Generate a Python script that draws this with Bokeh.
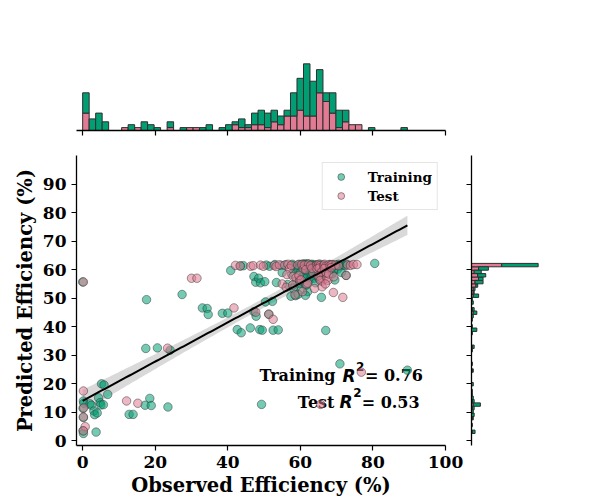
import numpy as np
from bokeh.plotting import figure
from bokeh.layouts import column, row
from bokeh.models import Range1d, FixedTicker, Legend, LegendItem
from bokeh.core.properties import value
from bokeh.embed import file_html
from bokeh.resources import INLINE

# ---------------------------------------------------------------------------
# Observed vs predicted efficiency (%)
# ---------------------------------------------------------------------------
train_observed = [
    0.0, 0.2, 0.3, 0.1, 0.2, 0.1, 0.2,
    2.0, 2.4, 3.1, 3.3,
    3.7, 4.4, 4.8, 5.0, 4.0, 5.2,
    5.9, 6.9, 5.7,
    12.8, 13.9,
    17.6, 17.4, 17.2, 18.5, 18.9, 20.6, 24.1, 23.5, 27.4,
    33.0, 34.3, 34.6, 38.5, 40.0, 40.8,
    42.6, 43.7, 43.5, 44.3,
    46.2, 47.2, 47.7, 47.2, 47.8, 48.5, 48.8,
    49.3, 49.5, 49.0,
    50.4, 51.3, 50.6, 51.5, 50.2,
    52.3, 52.5, 53.0, 53.4,
    53.9, 54.8, 55.0,
    56.0, 56.5,
    57.4, 58.7, 57.8, 58.2, 58.6, 57.6, 58.9, 58.0,
    59.3, 59.7, 60.2, 60.6, 59.5, 60.1, 60.5, 59.8, 60.3, 59.4, 60.7,
    61.0, 61.2, 61.4, 61.6, 61.8, 62.0, 62.2, 62.4, 61.3, 61.7, 62.1, 62.5,
    61.1, 61.9, 62.3, 61.5, 62.0, 61.4,
    62.8, 63.1, 63.4, 63.7, 64.0, 64.3, 62.9, 63.5, 64.1, 63.0, 63.8, 64.2,
    64.6, 65.0, 65.4, 65.9, 64.8, 65.6, 65.8, 65.2,
    66.5, 67.0, 67.5,
    68.2, 68.6, 69.0, 69.5, 68.4, 69.2, 68.8,
    70.0, 70.5, 71.0, 70.9, 70.3, 71.3,
    71.8, 72.3, 72.8, 72.6,
    80.5, 89.5,
]
train_predicted = [
    55.7, 14.0, 13.2, 11.4, 8.2, 3.6, 2.6,
    13.0, 12.5, 10.5, 9.2,
    3.1, 15.1, 13.4, 12.6, 9.8, 20.0,
    19.6, 16.3, 12.7,
    9.3, 9.3,
    49.5, 32.4, 12.5, 14.9, 12.4, 32.6, 31.8, 11.9, 51.3,
    46.6, 46.4, 44.3, 44.7, 44.8, 59.7,
    39.0, 37.9, 61.3, 61.4,
    39.6, 57.6, 55.6, 45.3, 43.7, 57.0, 39.0,
    12.8, 38.8, 55.4,
    48.7, 44.4, 61.6, 61.2, 55.8,
    48.9, 38.8, 61.8, 55.5,
    38.9, 61.5, 59.0,
    61.7, 54.8,
    50.7, 50.9, 61.9, 61.3, 60.2, 58.4, 56.0, 53.5,
    61.4, 61.9, 61.6, 61.2, 60.4, 59.2, 57.5, 55.2, 53.0, 51.4, 62.0,
    61.5, 62.0, 61.3, 61.8, 61.5, 62.1, 61.2, 58.8, 60.3, 59.9, 60.5, 59.4,
    58.0, 57.2, 56.0, 54.5, 52.3, 51.0,
    61.6, 61.9, 61.3, 61.8, 61.4, 57.9, 60.2, 59.6, 60.6, 58.3, 57.0, 55.4,
    61.7, 61.3, 61.9, 61.5, 60.1, 58.6, 50.3, 56.8,
    61.6, 38.7, 60.4,
    61.8, 61.3, 61.7, 56.4, 60.0, 59.5, 58.6,
    61.6, 61.9, 61.3, 27.0, 60.2, 59.0,
    61.7, 61.4, 61.9, 58.0,
    62.2, 24.8,
]
test_observed = [
    0.2, 0.2, 0.3, 0.2, 0.7, 0.2,
    12.1, 15.2, 23.4, 30.0, 31.5,
    42.1, 41.7, 43.4, 46.3, 47.7, 47.0, 49.0, 49.8, 51.3,
    52.5, 52.8, 53.3, 54.2, 55.0,
    55.7, 56.1, 56.6, 57.0, 56.3,
    57.5, 58.0, 58.5, 58.8, 57.9,
    59.3, 59.8, 60.4, 60.8, 59.6, 60.2, 60.6,
    61.1, 61.7, 62.3, 61.5, 62.0,
    62.8, 63.5, 64.1, 63.2, 63.9,
    64.5, 64.8, 65.1, 65.4, 65.7, 66.0, 64.6, 65.2, 65.9, 64.9, 65.5, 66.0, 65.6,
    66.4, 66.7, 67.0, 67.3, 67.6, 67.9, 66.6, 67.2, 67.8, 66.9,
    68.2, 68.7, 69.2, 69.6, 68.5, 69.1,
    70.5, 71.7, 72.6, 73.0, 73.8, 74.6, 75.6, 76.8,
]
test_predicted = [
    55.7, 17.5, 11.6, 8.4, 5.0, 3.5,
    14.0, 13.2, 32.5, 57.0, 57.0,
    61.5, 46.6, 61.3, 61.2, 45.1, 61.4, 61.6, 61.2, 44.4,
    42.6, 61.5, 61.1, 61.7, 55.0,
    61.6, 53.8, 61.9, 60.4, 58.3,
    61.5, 57.6, 51.2, 57.2, 54.6,
    61.7, 56.3, 61.8, 60.2, 58.0, 56.4, 52.3,
    61.6, 54.9, 61.9, 60.0, 55.3,
    61.4, 58.8, 61.2, 60.5, 53.4,
    61.6, 61.2, 61.9, 61.4, 57.2, 55.9, 60.3, 60.6, 59.3, 57.8, 56.2, 54.0, 12.8,
    61.5, 61.9, 61.2, 57.0, 56.3, 61.8, 60.4, 58.9, 58.5, 55.0,
    61.4, 61.8, 57.5, 61.6, 60.7, 52.0,
    61.4, 50.3, 58.0, 61.6, 61.5, 61.8, 61.8, 24.1,
]

series_labels = ["Training", "Test"]
r2_scores = [0.76, 0.53]

# axis ticks
x_ticks = [0, 20, 40, 60, 80, 100]
y_ticks = [0, 10, 20, 30, 40, 50, 60, 70, 80, 90]

GREEN = "#029E73"
PINK = "#E07B93"
EDGE = "#2e2e2e"
SERIF = "DejaVu Serif"

tr_x, tr_y = np.array(train_observed), np.array(train_predicted)
te_x, te_y = np.array(test_observed), np.array(test_predicted)
all_x = np.concatenate([tr_x, te_x])
all_y = np.concatenate([tr_y, te_y])

# marginal histograms (stacked: test underneath, training on top)
N_BINS = 50
x_edges = np.linspace(all_x.min(), all_x.max(), N_BINS + 1)
y_edges = np.linspace(all_y.min(), all_y.max(), N_BINS + 1)
tr_xc = np.histogram(tr_x, x_edges)[0]
te_xc = np.histogram(te_x, x_edges)[0]
tr_yc = np.histogram(tr_y, y_edges)[0]
te_yc = np.histogram(te_y, y_edges)[0]

# least-squares fit on the training set with a 95% confidence band
slope, intercept = np.polyfit(tr_x, tr_y, 1)
fit_x = np.linspace(tr_x.min(), tr_x.max(), 120)
fit_y = intercept + slope * fit_x
n = len(tr_x)
resid = tr_y - (intercept + slope * tr_x)
s_err = np.sqrt(np.sum(resid ** 2) / (n - 2))
sxx = np.sum((tr_x - tr_x.mean()) ** 2)
half = 1.978 * s_err * np.sqrt(1.0 / n + (fit_x - tr_x.mean()) ** 2 / sxx)

x_rng = Range1d(-1.7, 100)
y_rng = Range1d(-1.6, 100)


def style_axis(ax, ticks, labels=True):
    ax.ticker = FixedTicker(ticks=ticks)
    ax.axis_line_width = 1.3
    ax.axis_line_color = "black"
    ax.major_tick_line_width = 1.2
    ax.major_tick_line_color = "black"
    ax.major_tick_out = 5
    ax.major_tick_in = 0
    ax.minor_tick_line_color = None
    if labels:
        ax.major_label_text_font = SERIF
        ax.major_label_text_font_style = "bold"
        ax.major_label_text_font_size = "17px"
        ax.major_label_text_color = "black"
        ax.major_label_standoff = 5
        ax.axis_label_text_font = SERIF
        ax.axis_label_text_font_style = "bold"
        ax.axis_label_text_font_size = "19.5px"
        ax.axis_label_text_color = "black"
        ax.axis_label_standoff = 3
    else:
        ax.major_label_overrides = {t: "" for t in ticks}
        ax.major_label_standoff = 0


# ---------------- main scatter ----------------
p = figure(x_range=x_rng, y_range=y_rng, frame_width=369, frame_height=290,
           min_border_left=76, min_border_right=21, min_border_top=0,
           min_border_bottom=55, toolbar_location=None, output_backend="svg")
p.outline_line_color = None
p.grid.visible = False
style_axis(p.xaxis[0], x_ticks)
style_axis(p.yaxis[0], y_ticks)
p.xaxis.axis_label = "Observed Efficiency (%)"
p.yaxis.axis_label = "Predicted Efficiency (%)"

# R^2 annotations (drawn beneath the points)
lines = [
    dict(name=series_labels[0], score=r2_scores[0], word_end=69.7, r_x=71.6,
         sup_x=75.3, eq_x=77.8, base=22.9, sup_base=26.1),
    dict(name=series_labels[1], score=r2_scores[1], word_end=69.4, r_x=70.8,
         sup_x=74.6, eq_x=76.9, base=13.6, sup_base=16.8),
]
for ln in lines:
    p.text(x=[ln["word_end"]], y=[ln["base"]], text=[ln["name"]],
           text_font=value(SERIF), text_font_style="bold", text_font_size="16px",
           text_align="right", text_baseline="alphabetic", text_color="black")
    p.text(x=[ln["r_x"]], y=[ln["base"]], text=["R"],
           text_font=value("DejaVu Sans"), text_font_style="bold italic",
           text_font_size="17px", text_align="left", text_baseline="alphabetic",
           text_color="black")
    p.text(x=[ln["sup_x"]], y=[ln["sup_base"]], text=["2"],
           text_font=value("DejaVu Sans"), text_font_style="bold",
           text_font_size="12px", text_align="left", text_baseline="alphabetic",
           text_color="black")
    p.text(x=[ln["eq_x"]], y=[ln["base"]], text=["= %.2f" % ln["score"]],
           text_font=value(SERIF), text_font_style="bold", text_font_size="16px",
           text_align="left", text_baseline="alphabetic", text_color="black")

p.varea(x=fit_x, y1=fit_y - half, y2=fit_y + half, fill_color="black", fill_alpha=0.15)

r_tr = p.scatter(tr_x, tr_y, size=8.5, fill_color=GREEN, fill_alpha=0.55,
                 line_color=EDGE, line_alpha=0.6, line_width=0.8)
r_te = p.scatter(te_x, te_y, size=8.5, fill_color=PINK, fill_alpha=0.55,
                 line_color=EDGE, line_alpha=0.6, line_width=0.8)
p.line(fit_x, fit_y, line_color="black", line_width=2)

legend = Legend(items=[LegendItem(label=series_labels[0], renderers=[r_tr]),
                       LegendItem(label=series_labels[1], renderers=[r_te])],
                location="top_right")
legend.label_text_font = SERIF
legend.label_text_font_style = "bold"
legend.label_text_font_size = "13.5px"
legend.label_text_color = "black"
legend.border_line_color = "#cccccc"
legend.border_line_width = 1
legend.background_fill_alpha = 0.8
legend.padding = 5
legend.spacing = 2
legend.margin = 7
legend.glyph_width = 26
legend.glyph_height = 17
legend.label_height = 17
legend.label_standoff = 14
p.add_layout(legend)

# ---------------- top marginal histogram ----------------
top_tot = tr_xc + te_xc
pt = figure(x_range=x_rng, y_range=Range1d(0, top_tot.max() * 1.05),
            frame_width=369, frame_height=70, min_border_left=76,
            min_border_right=21, min_border_top=60, min_border_bottom=25,
            toolbar_location=None, output_backend="svg")
pt.outline_line_color = None
pt.grid.visible = False
pt.yaxis.visible = False
style_axis(pt.xaxis[0], x_ticks, labels=False)
m = te_xc > 0
pt.quad(left=x_edges[:-1][m], right=x_edges[1:][m], bottom=0, top=te_xc[m],
        fill_color=PINK, line_color=EDGE, line_width=1)
m = tr_xc > 0
pt.quad(left=x_edges[:-1][m], right=x_edges[1:][m], bottom=te_xc[m], top=top_tot[m],
        fill_color=GREEN, line_color=EDGE, line_width=1)

# ---------------- right marginal histogram ----------------
right_tot = tr_yc + te_yc
pr = figure(x_range=Range1d(0, right_tot.max() * 1.05), y_range=y_rng,
            frame_width=70, frame_height=290, min_border_left=5,
            min_border_right=59, min_border_top=0, min_border_bottom=55,
            toolbar_location=None, output_backend="svg")
pr.outline_line_color = None
pr.grid.visible = False
pr.xaxis.visible = False
style_axis(pr.yaxis[0], y_ticks, labels=False)
m = te_yc > 0
pr.quad(bottom=y_edges[:-1][m], top=y_edges[1:][m], left=0, right=te_yc[m],
        fill_color=PINK, line_color=EDGE, line_width=1)
m = tr_yc > 0
pr.quad(bottom=y_edges[:-1][m], top=y_edges[1:][m], left=te_yc[m], right=right_tot[m],
        fill_color=GREEN, line_color=EDGE, line_width=1)

layout = column(pt, row(p, pr))
open("out.html", "w").write(file_html(layout, INLINE))
